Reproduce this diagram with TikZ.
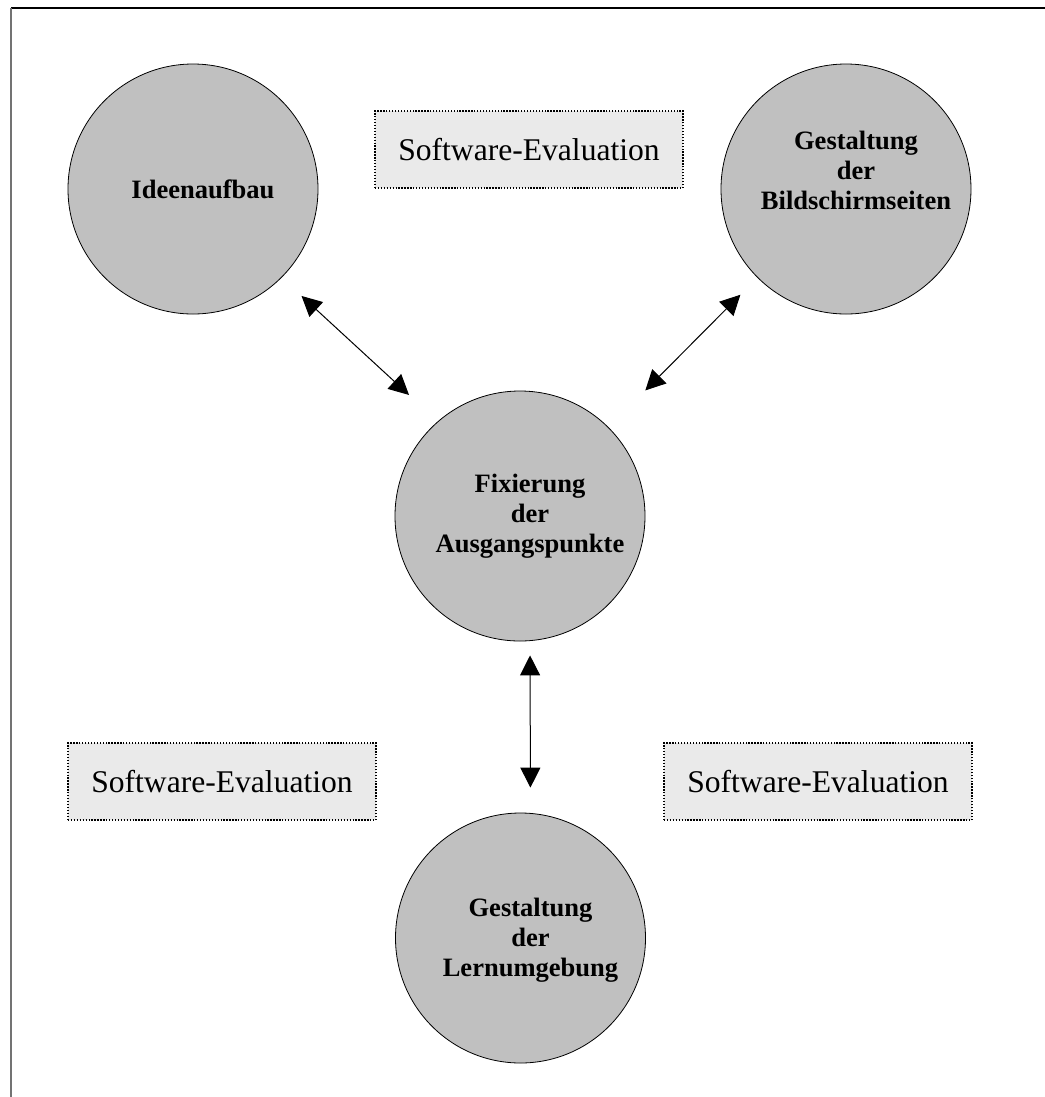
\documentclass[tikz,border=0pt]{standalone}
\usepackage{fontspec}
\setmainfont{Liberation Serif}
\usetikzlibrary{arrows.meta}
\definecolor{kreisgrau}{HTML}{C0C0C0}
\definecolor{kastengrau}{HTML}{EAEAEA}
\tikzset{
	kreis/.style={circle, draw=black, line width=0.6pt, fill=kreisgrau, minimum size=187.5pt, inner sep=0pt},
	kreistext/.style={align=center, inner sep=0pt, font=\fontsize{19.9}{22.5}\selectfont\bfseries},
	kasten/.style={rectangle, draw=black, fill=kastengrau, line width=0.9pt, dash pattern=on 1pt off 1.2pt,
			minimum width=231pt, minimum height=57.75pt, inner sep=0pt, font=\fontsize{23.7}{28}\selectfont},
	doppelpfeil/.style={{Triangle[length=15pt,width=15pt]}-{Triangle[length=15pt,width=15pt]}, line width=0.75pt},
}

\begin{document}
\begin{tikzpicture}[x=0.75pt, y=-0.75pt]
	\useasboundingbox (0,0) rectangle (1045,1097);
	\draw[line width=1.5pt] (11,8) -- (1045,8);
	\draw[line width=1.5pt, black!55] (11,8) -- (11,1097);

	\node[kreis] (ideen) at (193,189) {};
	\node[kreis] (bild) at (846,189) {};
	\node[kreis] (fix) at (520,516) {};
	\node[kreis] (lern) at (520.5,938) {};

	\node[kreistext] (ideentext) at ([xshift=7.5pt]ideen.center) {Ideenaufbau};
	\node[kreistext] (bildtext) at ([xshift=7.5pt, yshift=14pt]bild.center) {Gestaltung\\der\\Bildschirmseiten};
	\node[kreistext] (fixtext) at ([xshift=7.5pt]fix.center) {Fixierung\\der\\Ausgangspunkte};
	\node[kreistext] (lerntext) at ([xshift=7.5pt, yshift=-2pt]lern.center) {Gestaltung\\der\\Lernumgebung};

	\node[kasten] (evaloben) at (529,149.5) {Software-Evaluation};
	\node[kasten] (evallinks) at (222,781.5) {Software-Evaluation};
	\node[kasten] (evalrechts) at (818,781.5) {Software-Evaluation};

	\draw[doppelpfeil, shorten <=20.25pt, shorten >=29.25pt] (ideen.-45) -- (fix.131);
	\draw[doppelpfeil, shorten <=18pt, shorten >=39pt] (bild.-135) -- (fix.45);
	\draw[doppelpfeil, shorten <=10.5pt, shorten >=18.75pt] ([xshift=7.5pt]fix.south) -- ([xshift=7.5pt]lern.north);
\end{tikzpicture}
\end{document}
